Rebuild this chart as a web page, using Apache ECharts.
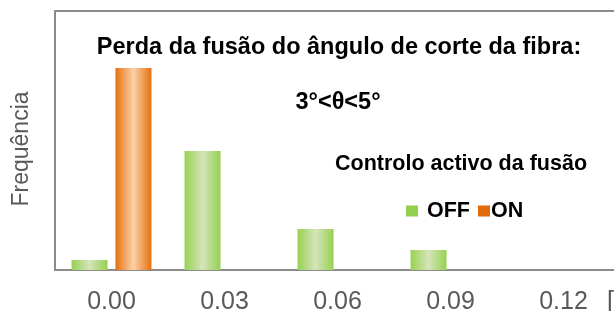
<!DOCTYPE html>
<html><head><meta charset="utf-8">
<script src="https://cdn.jsdelivr.net/npm/echarts@6/dist/echarts.min.js"></script>
<style>html,body{margin:0;padding:0;background:#fff}#c{width:614px;height:311px}</style>
</head><body><div id="c"></div>
<script>
const categories = ['0.00', '0.03', '0.06', '0.09', '0.12'];
const offValues = [10, 119, 41, 20, 0];
const onValues = [202, 0, 0, 0, 0];
const yMax = 259;
const titleLine1 = 'Perda da fusão do ângulo de corte da fibra:';
const titleLine2 = '3°<θ<5°';
const legendTitle = 'Controlo activo da fusão';
const yName = 'Frequência';
const xName = '[°]';

const BOLD = "'Liberation Sans',Arial,sans-serif";
const SANS = "'Liberation Sans',Arial,sans-serif";
function grad(edge, mid) {
  return new echarts.graphic.LinearGradient(0, 0, 1, 0, [
    {offset: 0, color: edge}, {offset: 0.5, color: mid}, {offset: 1, color: edge}
  ]);
}
const legendText = {fontFamily: BOLD, fontWeight: 'bold', fontSize: 21.5, color: '#000'};
const chart = echarts.init(document.getElementById('c'), null, {renderer: 'canvas'});
chart.setOption({
  animation: false,
  grid: {left: 55, top: 11, width: 565, height: 259, show: true, borderColor: '#8c8c8c', borderWidth: 2,
         containLabel: false, outerBoundsMode: 'none'},
  title: [
    {text: titleLine1, left: 334, top: 31, textAlign: 'center', textStyle: {fontFamily: BOLD, fontWeight: 'bold', fontSize: 23.5, color: '#000'}},
    {text: titleLine2, left: 333, top: 86, textAlign: 'center', textStyle: {fontFamily: BOLD, fontWeight: 'bold', fontSize: 23.5, color: '#000'}},
    {text: legendTitle, left: 456, top: 148, textAlign: 'center', textStyle: {fontFamily: BOLD, fontWeight: 'bold', fontSize: 21.5, color: '#000'}}
  ],
  graphic: [
    {type: 'text', x: 22, y: 149, rotation: Math.PI / 2,
     style: {text: yName, fontFamily: SANS, fontSize: 23, fill: '#595959', align: 'center', verticalAlign: 'middle'}}
  ],
  legend: [
    {left: 406, top: 200, padding: 0, itemWidth: 12, itemHeight: 11, icon: 'rect',
     textStyle: Object.assign({padding: [0, 0, 0, 4]}, legendText),
     data: [{name: 'OFF', itemStyle: {color: '#92D050'}}]},
    {left: 478, top: 200, padding: 0, itemWidth: 12, itemHeight: 11, icon: 'rect',
     textStyle: Object.assign({padding: [0, 0, 0, -4]}, legendText),
     data: [{name: 'ON', itemStyle: {color: '#E36C0A'}}]}
  ],
  xAxis: {
    type: 'category', data: categories, boundaryGap: true,
    axisLine: {show: true, lineStyle: {color: '#8c8c8c', width: 2}},
    axisTick: {show: false},
    axisLabel: {fontFamily: SANS, fontSize: 25, color: '#595959', margin: 20},
    name: xName, nameLocation: 'end', nameGap: -13,
    nameTextStyle: {fontFamily: SANS, fontSize: 25, color: '#595959', align: 'left', verticalAlign: 'top', padding: [20, 0, 0, 0]}
  },
  yAxis: {
    type: 'value', min: 0, max: yMax,
    axisLabel: {show: false}, splitLine: {show: false}, axisTick: {show: false},
    axisLine: {show: false}
  },
  series: [
    {name: 'OFF', type: 'bar', data: offValues, barWidth: 36, barGap: '22%',
     itemStyle: {color: grad('#95D152', '#D6E4BA')}},
    {name: 'ON', type: 'bar', data: onValues, barWidth: 36,
     itemStyle: {color: grad('#E6700F', '#FBD1A8')}}
  ]
});
</script></body></html>
